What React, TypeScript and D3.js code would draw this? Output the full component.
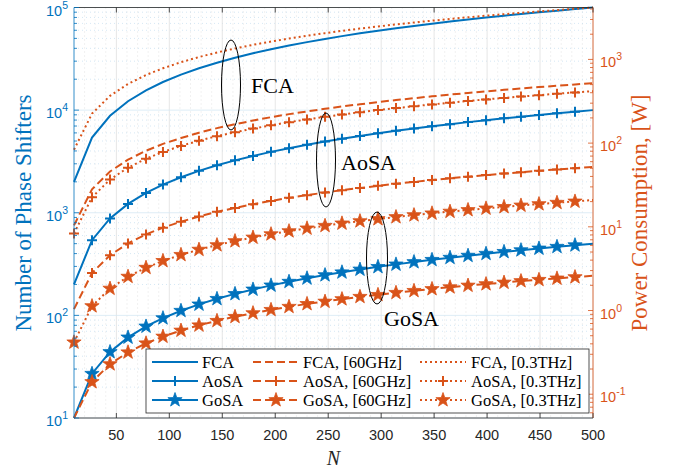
import React from 'react';
import * as d3 from 'd3';

// ---------- data ----------
const N = [10, 27, 44, 61, 78, 94, 111, 128, 145, 162, 179, 196, 213, 230, 247, 263, 280, 297, 314, 331, 348, 365, 382, 399, 416, 432, 449, 466, 483, 500];

const psFCA = [2000, 5400, 8800, 12200, 15600, 18800, 22200, 25600, 29000, 32400, 35800, 39200, 42600, 46000, 49400, 52600, 56000, 59400, 62800, 66200, 69600, 73000, 76400, 79800, 83200, 86400, 89800, 93200, 96600, 100000];
const psAoSA = [200, 540, 880, 1220, 1560, 1880, 2220, 2560, 2900, 3240, 3580, 3920, 4260, 4600, 4940, 5260, 5600, 5940, 6280, 6620, 6960, 7300, 7640, 7980, 8320, 8640, 8980, 9320, 9660, 10000];
const psGoSA = [10, 27, 44, 61, 78, 94, 111, 128, 145, 162, 179, 196, 213, 230, 247, 263, 280, 297, 314, 331, 348, 365, 382, 399, 416, 432, 449, 466, 483, 500];

const pFCA60 = [10.4, 28.1, 45.8, 63.4, 81.1, 97.8, 115, 133, 151, 168, 186, 204, 222, 239, 257, 274, 291, 309, 327, 344, 362, 380, 397, 415, 433, 449, 467, 485, 502, 520];
const pAoSA60 = [1.04, 2.81, 4.58, 6.34, 8.11, 9.78, 11.5, 13.3, 15.1, 16.8, 18.6, 20.4, 22.2, 23.9, 25.7, 27.4, 29.1, 30.9, 32.7, 34.4, 36.2, 38.0, 39.7, 41.5, 43.3, 44.9, 46.7, 48.5, 50.2, 52.0];
const pGoSA60 = [0.052, 0.140, 0.229, 0.317, 0.406, 0.489, 0.577, 0.666, 0.754, 0.842, 0.931, 1.02, 1.11, 1.20, 1.28, 1.37, 1.46, 1.54, 1.63, 1.72, 1.81, 1.90, 1.99, 2.07, 2.16, 2.25, 2.33, 2.42, 2.51, 2.60];
const pFCA03 = [83.4, 225, 367, 509, 651, 784, 926, 1068, 1209, 1351, 1493, 1635, 1776, 1918, 2060, 2193, 2335, 2477, 2619, 2761, 2902, 3044, 3186, 3328, 3469, 3603, 3745, 3886, 4028, 4170];
const pAoSA03 = [8.34, 22.5, 36.7, 50.9, 65.1, 78.4, 92.6, 107, 121, 135, 149, 163, 178, 192, 206, 219, 234, 248, 262, 276, 290, 304, 319, 333, 347, 360, 374, 389, 403, 417];
const pGoSA03 = [0.417, 1.13, 1.83, 2.54, 3.25, 3.92, 4.63, 5.34, 6.05, 6.76, 7.46, 8.17, 8.88, 9.59, 10.3, 11.0, 11.7, 12.4, 13.1, 13.8, 14.5, 15.2, 15.9, 16.6, 17.3, 18.0, 18.7, 19.4, 20.1, 20.9];

const xTicks = [50, 100, 150, 200, 250, 300, 350, 400, 450, 500];
const leftExps = [1, 2, 3, 4, 5];
const rightExps = [-1, 0, 1, 2, 3];

const legendLabels = [
  ['FCA', 'AoSA', 'GoSA'],
  ['FCA, [60GHz]', 'AoSA, [60GHz]', 'GoSA, [60GHz]'],
  ['FCA, [0.3THz]', 'AoSA, [0.3THz]', 'GoSA, [0.3THz]'],
];
const annotations = ['FCA', 'AoSA', 'GoSA'];

// ---------- styles ----------
const BLUE = '#0072BD';
const ORANGE = '#D95319';
const DARK = '#262626';
const W = 676, H = 468;
const L = 74, R = 593, T = 7.5, B = 418;

const x = d3.scaleLinear().domain([10, 500]).range([L, R]);
const yL = d3.scaleLog().domain([10, 1e5]).range([B, T]);
const yR = d3.scaleLog().domain([0.052, 4170]).range([B, T]);

type Series = { v: number[]; axis: 'L' | 'R'; color: string; dash: string; marker: 'none' | 'plus' | 'star'; from: number };
const series: Series[] = [
  { v: psFCA, axis: 'L', color: BLUE, dash: '', marker: 'none', from: 1 },
  { v: psAoSA, axis: 'L', color: BLUE, dash: '', marker: 'plus', from: 1 },
  { v: psGoSA, axis: 'L', color: BLUE, dash: '', marker: 'star', from: 1 },
  { v: pFCA60, axis: 'R', color: ORANGE, dash: '8,4', marker: 'none', from: 1 },
  { v: pAoSA60, axis: 'R', color: ORANGE, dash: '8,4', marker: 'plus', from: 1 },
  { v: pGoSA60, axis: 'R', color: ORANGE, dash: '8,4', marker: 'star', from: 1 },
  { v: pFCA03, axis: 'R', color: ORANGE, dash: '2,3', marker: 'none', from: 0 },
  { v: pAoSA03, axis: 'R', color: ORANGE, dash: '2,3', marker: 'plus', from: 0 },
  { v: pGoSA03, axis: 'R', color: ORANGE, dash: '2,3', marker: 'star', from: 0 },
];

function starPath(cx: number, cy: number, r0: number) {
  const r1 = r0 * 0.4;
  const pts: string[] = [];
  for (let k = 0; k < 10; k++) {
    const a = (-90 + k * 36) * Math.PI / 180;
    const r = k % 2 === 0 ? r0 : r1;
    pts.push(`${(cx + r * Math.cos(a)).toFixed(2)},${(cy + r * Math.sin(a)).toFixed(2)}`);
  }
  return 'M' + pts.join('L') + 'Z';
}

function Marker({ kind, cx, cy, color }: { kind: string; cx: number; cy: number; color: string }) {
  if (kind === 'plus') {
    return <path d={`M${cx - 5},${cy}h10M${cx},${cy - 5}v10`} stroke={color} strokeWidth={2} fill="none" />;
  }
  if (kind === 'star') {
    return <path d={starPath(cx, cy, 7.5)} fill={color} stroke={color} strokeWidth={0.8} strokeLinejoin="miter" />;
  }
  return null;
}

export default function App() {
  const minorX = d3.range(20, 500, 10).filter((v) => v % 50 !== 0);
  const minorYL: number[] = [];
  for (let d = 1; d <= 4; d++) for (let m = 2; m <= 9; m++) minorYL.push(m * Math.pow(10, d));
  const minorYR: number[] = [];
  for (let d = -2; d <= 3; d++) for (let m = 2; m <= 9; m++) {
    const v = m * Math.pow(10, d);
    if (v >= 0.052 && v <= 4170) minorYR.push(v);
  }

  const serif = '"Liberation Serif", "Times New Roman", serif';
  const sans = '"Liberation Sans", Arial, Helvetica, sans-serif';

  const legCols = [
    { x0: 152, x1: 198, tx: 202 },
    { x0: 253, x1: 299, tx: 303 },
    { x0: 420, x1: 466, tx: 471 },
  ];
  const legRows = [362, 381, 400];

  return (
    <svg width={W} height={H} style={{ position: 'absolute', left: 0, top: 0, background: '#fff' }}>
      <rect x={0} y={0} width={W} height={H} fill="#fff" />
      {/* grid */}
      <g>
        {minorX.map((v) => (
          <line key={'mx' + v} x1={x(v)} x2={x(v)} y1={T} y2={B} stroke="#d2d2d2" strokeWidth={0.6} strokeDasharray="1,3" />
        ))}
        {minorYL.map((v) => (
          <line key={'my' + v} x1={L} x2={R} y1={yL(v)} y2={yL(v)} stroke="#b9d6ec" strokeWidth={0.6} strokeDasharray="1,3" />
        ))}
        {xTicks.map((v) => (
          <line key={'gx' + v} x1={x(v)} x2={x(v)} y1={T} y2={B} stroke="#dfdfdf" strokeWidth={0.8} />
        ))}
        {leftExps.map((e) => (
          <line key={'gy' + e} x1={L} x2={R} y1={yL(Math.pow(10, e))} y2={yL(Math.pow(10, e))} stroke="#d6e8f4" strokeWidth={0.8} />
        ))}
      </g>
      {/* series */}
      {series.map((s, i) => {
        const ys = s.axis === 'L' ? yL : yR;
        const line = d3.line<number>().x((_, j) => x(N[j])).y((d) => ys(d));
        return (
          <g key={'s' + i}>
            <path d={line(s.v) || ''} fill="none" stroke={s.color} strokeWidth={2} strokeDasharray={s.dash || undefined} />
            {s.marker !== 'none' &&
              s.v.map((d, j) =>
                j >= s.from && j < s.v.length - 1 ? <Marker key={j} kind={s.marker} cx={x(N[j])} cy={ys(d)} color={s.color} /> : null
              )}
          </g>
        );
      })}
      {/* axes */}
      <g>
        <line x1={L} x2={R} y1={B} y2={B} stroke={DARK} strokeWidth={0.8} />
        <line x1={L} x2={R} y1={T} y2={T} stroke={DARK} strokeWidth={0.8} />
        <line x1={L} x2={L} y1={T} y2={B} stroke={BLUE} strokeWidth={0.8} />
        <line x1={R} x2={R} y1={T} y2={B} stroke={ORANGE} strokeWidth={0.8} />
        {xTicks.map((v) => (
          <g key={'xt' + v}>
            <line x1={x(v)} x2={x(v)} y1={B} y2={B - 5} stroke={DARK} strokeWidth={0.8} />
            <line x1={x(v)} x2={x(v)} y1={T} y2={T + 5} stroke={DARK} strokeWidth={0.8} />
            <text x={x(v)} y={440} textAnchor="middle" fontFamily={sans} fontSize={14.5} fill={DARK}>{v}</text>
          </g>
        ))}
        {minorYL.map((v) => (
          <line key={'lt' + v} x1={L} x2={L + 3} y1={yL(v)} y2={yL(v)} stroke={BLUE} strokeWidth={0.8} />
        ))}
        {leftExps.map((e) => {
          const yy = yL(Math.pow(10, e));
          return (
            <g key={'le' + e}>
              <line x1={L} x2={L + 5} y1={yy} y2={yy} stroke={BLUE} strokeWidth={0.8} />
              <text x={68} y={yy + 8} textAnchor="end" fontFamily={sans} fontSize={14.5} fill={BLUE}>
                <tspan>10</tspan>
                <tspan dy={-7} fontSize={10.5}>{e}</tspan>
              </text>
            </g>
          );
        })}
        {minorYR.map((v) => (
          <line key={'rt' + v} x1={R} x2={R - 3} y1={yR(v)} y2={yR(v)} stroke={ORANGE} strokeWidth={0.8} />
        ))}
        {rightExps.map((e) => {
          const yy = yR(Math.pow(10, e));
          return (
            <g key={'re' + e}>
              <line x1={R} x2={R - 5} y1={yy} y2={yy} stroke={ORANGE} strokeWidth={0.8} />
              <text x={600} y={yy + 8} textAnchor="start" fontFamily={sans} fontSize={14.5} fill={ORANGE}>
                <tspan>10</tspan>
                <tspan dy={-7} fontSize={10.5}>{e}</tspan>
              </text>
            </g>
          );
        })}
      </g>
      {/* axis labels */}
      <text transform={`translate(31,213) rotate(-90)`} textAnchor="middle" fontFamily={serif} fontSize={23} fill={BLUE}>
        Number of Phase Shifters
      </text>
      <text transform={`translate(647,213) rotate(-90)`} textAnchor="middle" fontFamily={serif} fontSize={23} fill={ORANGE}>
        Power Consumption, [W]
      </text>
      <text x={333.5} y={465} textAnchor="middle" fontFamily={serif} fontStyle="italic" fontSize={20} fill={DARK}>N</text>
      {/* annotations */}
      <g fill="none" stroke="#000" strokeWidth={1}>
        <ellipse cx={231} cy={85} rx={9.5} ry={45} />
        <ellipse cx={326} cy={160} rx={9.5} ry={47} />
        <ellipse cx={377} cy={258} rx={10.5} ry={46} />
      </g>
      <text x={251} y={93} fontFamily={serif} fontSize={22} fill="#000">{annotations[0]}</text>
      <text x={341} y={170} fontFamily={serif} fontSize={22} fill="#000">{annotations[1]}</text>
      <text x={384} y={326} fontFamily={serif} fontSize={22} fill="#000">{annotations[2]}</text>
      {/* legend */}
      <g>
        <rect x={146} y={349} width={443} height={64} fill="#fff" stroke={DARK} strokeWidth={0.8} />
        {legCols.map((c, ci) =>
          legRows.map((ry, ri) => {
            const s = series[ci * 3 + ri];
            const mx = (c.x0 + c.x1) / 2;
            return (
              <g key={`lg${ci}${ri}`}>
                <line x1={c.x0} x2={c.x1} y1={ry} y2={ry} stroke={s.color} strokeWidth={2} strokeDasharray={s.dash || undefined} />
                {s.marker !== 'none' && <Marker kind={s.marker} cx={mx} cy={ry} color={s.color} />}
                <text x={c.tx} y={ry + 5.5} fontFamily={serif} fontSize={16.5} fill="#000">{legendLabels[ci][ri]}</text>
              </g>
            );
          })
        )}
      </g>
    </svg>
  );
}
